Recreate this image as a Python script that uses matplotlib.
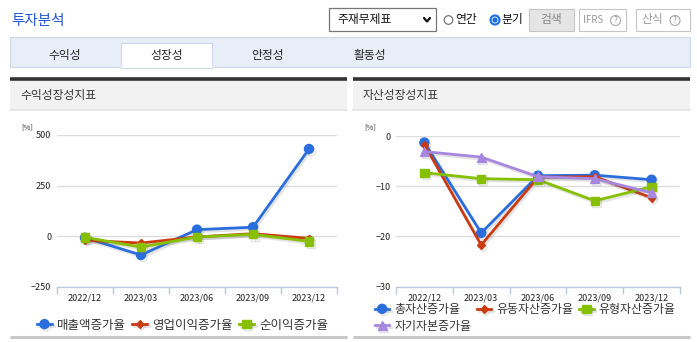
import matplotlib
matplotlib.use("Agg")
import matplotlib.pyplot as plt
import matplotlib.patheffects as pe
from matplotlib.patches import Rectangle, Circle

plt.rcParams['font.family'] = ['Noto Sans CJK KR', 'DejaVu Sans']

W, H = 697, 342

# 데이터
periods = ['2022/12', '2023/03', '2023/06', '2023/09', '2023/12']

sales_growth = [-7, -92, 33, 45, 431]
op_income_growth = [-20, -33, -3, 13, -10]
net_income_growth = [-5, -53, -3, 10, -25]
profit_names = ['매출액증가율', '영업이익증가율', '순이익증가율']

total_assets_growth = [-1.3, -19.3, -7.9, -7.8, -8.7]
current_assets_growth = [-1.7, -21.7, -8.2, -8.1, -12.3]
tangible_assets_growth = [-7.3, -8.5, -8.7, -12.9, -10.1]
equity_growth = [-3.1, -4.2, -8.1, -8.5, -11.3]
asset_names = ['총자산증가율', '유동자산증가율', '유형자산증가율', '자기자본증가율']

tabs = ['수익성', '성장성', '안정성', '활동성']

BLUE = '#2a6ede'
RED = '#cc3a10'
GREEN = '#86c000'
PURPLE = '#a887e0'

fig = plt.figure(figsize=(W / 100, H / 100), dpi=100)

# 화면 틀 (픽셀 좌표)
bg = fig.add_axes([0, 0, 1, 1])
bg.set_xlim(0, W)
bg.set_ylim(H, 0)
bg.axis('off')
bg.set_zorder(-1)

bg.text(11, 21, '투자분석', fontsize=10.5, color='#2458d8', va='center')

# 선택 상자 / 라디오 / 버튼
bg.add_patch(Rectangle((329, 8), 107, 23, fc='white', ec='#767676', lw=0.9))
bg.text(337, 19.5, '주재무제표', fontsize=8.5, va='center', color='#111')
bg.plot([424, 427, 430], [18, 21.5, 18], color='#111', lw=1.6, solid_capstyle='round')

bg.add_patch(Circle((448.5, 20), 4.3, fc='white', ec='#666', lw=0.8))
bg.text(455, 19.5, '연간', fontsize=8.5, va='center', color='#111')
bg.add_patch(Circle((495, 20), 5, fc='#1a6fe0', ec='#1a6fe0', lw=0.8))
bg.add_patch(Circle((495, 20), 3.4, fc='white', ec='none'))
bg.add_patch(Circle((495, 20), 2.6, fc='#1a6fe0', ec='none'))
bg.text(501, 19.5, '분기', fontsize=8.5, va='center', color='#111')

bg.add_patch(Rectangle((529, 9), 45, 22, fc='#e5e5e5', ec='#c6c6c6', lw=0.8))
bg.text(551.5, 20, '검색', fontsize=8.5, va='center', ha='center', color='#888')

bg.add_patch(Rectangle((579, 9), 47, 22, fc='white', ec='#c6c6c6', lw=0.8))
bg.text(583, 20, 'IFRS', fontsize=7, va='center', color='#999')
bg.add_patch(Circle((615.5, 20.5), 5, fc='white', ec='#aaa', lw=0.8))
bg.text(615.5, 20.5, '?', fontsize=6, va='center', ha='center', color='#999')

bg.add_patch(Rectangle((636, 9), 54, 22, fc='white', ec='#c6c6c6', lw=0.8))
bg.text(641, 20, '산식', fontsize=8.5, va='center', color='#999')
bg.add_patch(Circle((675, 20.5), 5, fc='white', ec='#aaa', lw=0.8))
bg.text(675, 20.5, '?', fontsize=6, va='center', ha='center', color='#999')

# 탭
bg.add_patch(Rectangle((10, 37), 680, 30, fc='#e8eef8', ec='#cdd8ea', lw=0.8))
bg.add_patch(Rectangle((121, 43), 91, 24.6, fc='white', ec='#cdd8ea', lw=0.8))
bg.plot([121.5, 211.5], [67, 67], color='white', lw=1.2)
for name, cx in zip(tabs, [65, 167, 268, 370]):
    bg.text(cx, 55, name, fontsize=8.5, ha='center', va='center', color='#222')

# 패널 머리/바닥
panels = [(10, 347, '수익성장성지표'), (353, 690, '자산성장성지표')]
for x0, x1, title in panels:
    bg.add_patch(Rectangle((x0, 78), x1 - x0, 32, fc='#f2f2f2', ec='none'))
    bg.plot([x0, x1], [78.5, 78.5], color='#333', lw=2.6, solid_capstyle='butt')
    bg.plot([x0, x1], [110, 110], color='#e2e2e2', lw=1.2)
    bg.plot([x0, x1], [337, 337], color='#c8c8c8', lw=2.2, solid_capstyle='butt')
    bg.text(x0 + 10, 95, title, fontsize=8.5, va='center', color='#333')

bg.text(21, 127, '[%]', fontsize=5.5, va='center', color='#333')
bg.text(364, 127, '[%]', fontsize=5.5, va='center', color='#333')


def px_box(x0, x1, ytop, ybot):
    return [x0 / W, 1 - ybot / H, (x1 - x0) / W, (ybot - ytop) / H]


shadow = [pe.SimpleLineShadow(offset=(1.2, -1.5), shadow_color='#666', alpha=0.18), pe.Normal()]


def style_axes(ax, yticks, ylim):
    ax.set_facecolor('none')
    ax.set_xlim(-0.5, len(periods) - 0.5)
    ax.set_ylim(*ylim)
    ax.set_yticks(yticks)
    ax.yaxis.grid(True, color='#dcdcdc', lw=1)
    ax.set_axisbelow(True)
    for s in ['left', 'right', 'top']:
        ax.spines[s].set_visible(False)
    ax.spines['bottom'].set_color('#b8cadc')
    ax.spines['bottom'].set_linewidth(1)
    ax.set_xticks([i - 0.5 for i in range(len(periods) + 1)])
    ax.set_xticklabels([])
    ax.set_xticks(range(len(periods)), minor=True)
    ax.set_xticklabels(periods, minor=True)
    ax.tick_params(axis='x', which='major', length=5, color='#b8cadc', width=1, direction='out')
    ax.tick_params(axis='x', which='minor', length=0, pad=5, labelsize=6.5, labelcolor='#222')
    ax.tick_params(axis='y', length=0, pad=4, labelsize=6.5, labelcolor='#222')


x = range(len(periods))
leg_kw = dict(frameon=False, handlelength=1.2, handletextpad=0.4,
              columnspacing=0.5, borderpad=0, borderaxespad=0, labelcolor='#333',
              bbox_transform=fig.transFigure)

# 수익성장성
ax1 = fig.add_axes(px_box(57, 337, 135, 287))
style_axes(ax1, [-250, 0, 250, 500], (-250, 500))
ax1.plot(x, sales_growth, color=BLUE, lw=2, marker='o', ms=6.5, label=profit_names[0], path_effects=shadow)
ax1.plot(x, op_income_growth, color=RED, lw=2, marker='D', ms=3.8, label=profit_names[1], path_effects=shadow)
ax1.plot(x, net_income_growth, color=GREEN, lw=2, marker='s', ms=6, label=profit_names[2], path_effects=shadow)
ax1.legend(loc='center left', bbox_to_anchor=(37 / W, 1 - 325 / H), ncol=3, fontsize=9, **leg_kw)

# 자산성장성
ax2 = fig.add_axes(px_box(396, 680, 136, 286.7))
style_axes(ax2, [-30, -20, -10, 0], (-30, 0))
h1, = ax2.plot(x, total_assets_growth, color=BLUE, lw=2, marker='o', ms=6.5, label=asset_names[0], path_effects=shadow)
h2, = ax2.plot(x, current_assets_growth, color=RED, lw=2, marker='D', ms=3.8, label=asset_names[1], path_effects=shadow)
h3, = ax2.plot(x, tangible_assets_growth, color=GREEN, lw=2, marker='s', ms=6, label=asset_names[2], path_effects=shadow)
h4, = ax2.plot(x, equity_growth, color=PURPLE, lw=2, marker='^', ms=6.5, label=asset_names[3], path_effects=shadow)
ax2.legend([h1, h4, h2, h3], [asset_names[0], asset_names[3], asset_names[1], asset_names[2]],
           loc='upper left', bbox_to_anchor=(375 / W, 1 - 303 / H), ncol=3, fontsize=8.6,
           labelspacing=0.3, **leg_kw)

fig.savefig('out.png', dpi=100)
